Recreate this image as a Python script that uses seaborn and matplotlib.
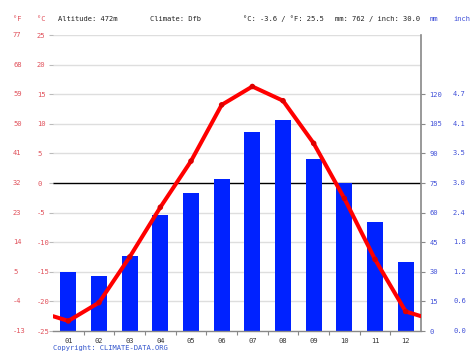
import matplotlib
matplotlib.use("Agg")
import matplotlib.pyplot as plt
import matplotlib.transforms as mtransforms
import seaborn as sns

sns.set_theme(style="white")
plt.rcParams['font.family'] = ['DejaVu Sans Mono', 'Liberation Mono']

# monthly climate values
months = ["01", "02", "03", "04", "05", "06", "07", "08", "09", "10", "11", "12"]
temp_c = [-23.3, -20.2, -12.5, -4.1, 3.7, 13.2, 16.3, 13.9, 6.7, -2.6, -12.9, -21.7]
precip_mm = [30, 28, 38, 59, 70, 77, 101, 107, 87, 75, 55, 35]

temp_ticks = [-25, -20, -15, -10, -5, 0, 5, 10, 15, 20, 25]
mm_ticks = [0, 15, 30, 45, 60, 75, 90, 105, 120]

header = ["Altitude: 472m", "Climate: Dfb", "°C: -3.6 / °F: 25.5", "mm: 762 / inch: 30.0"]

RED_TXT = "#e0505a"
BLUE_TXT = "#4050d8"
FS = 5.1

tmin, tmax = temp_ticks[0], temp_ticks[-1]
pmax = 150
scale = pmax / (tmax - tmin)

fig = plt.figure(figsize=(4.74, 3.55), dpi=100)
ax = fig.add_axes([53 / 474, 24 / 355, 368 / 474, 296 / 355])
axp = ax.twinx()
ax.set_zorder(axp.get_zorder() + 1)
ax.patch.set_visible(False)

# precipitation bars (behind the temperature line)
for t in temp_ticks[1:]:
    axp.axhline((t - tmin) * scale, color="black" if t == 0 else "#dedede",
                lw=1.0, zorder=0.4)
sns.barplot(x=months, y=precip_mm, ax=axp, color="#0022ff", width=0.52,
            saturation=1, edgecolor="none", zorder=2)
axp.set_ylim(0, pmax)
axp.set_yticks(mm_ticks)
axp.set_yticklabels([str(m) for m in mm_ticks])
axp.tick_params(axis="y", colors="#888888", labelcolor=BLUE_TXT, labelsize=FS,
                length=3, width=0.8, pad=3, right=True, left=False)
axp.set_xlabel("")
axp.set_ylabel("")

# temperature line, extended to the edges with the Dec/Jan mean
edge = (temp_c[0] + temp_c[-1]) / 2
xs = [-0.5] + list(range(12)) + [11.5]
ys = [edge] + temp_c + [edge]
sns.lineplot(x=xs, y=ys, ax=ax, color="#ff0000", linewidth=2.9, sort=False)
sns.scatterplot(x=list(range(12)), y=temp_c, ax=ax, color="#dd0000", s=16,
                edgecolor="none", zorder=5)
ax.set_ylim(tmin, tmax)
ax.set_xlim(-0.5, 11.5)
ax.set_yticks(temp_ticks)
ax.set_yticklabels([str(t) for t in temp_ticks])
ax.tick_params(axis="y", colors="#bbbbbb", labelcolor=RED_TXT, labelsize=FS,
               length=3, width=0.8, pad=8.5, left=True, right=False)
for lab in ax.get_yticklabels():
    lab.set_horizontalalignment("left")
ax.set_xticks(range(12))
ax.set_xticklabels(months)
ax.set_xticks([i + 0.5 for i in range(11)], minor=True)
ax.tick_params(axis="x", which="major", length=0, labelsize=FS,
               labelcolor="#333333", pad=5)
ax.tick_params(axis="x", which="minor", length=3, width=0.8, color="#888888",
               bottom=True)
ax.set_xlabel("")
ax.set_ylabel("")

for s in ["top", "left", "right"]:
    ax.spines[s].set_visible(False)
ax.spines["bottom"].set_color("#888888")
ax.spines["bottom"].set_linewidth(1.0)
for s in ["top", "left", "bottom"]:
    axp.spines[s].set_visible(False)
axp.spines["right"].set_color("#888888")
axp.spines["right"].set_linewidth(1.2)

# Fahrenheit and inch labels
tf = mtransforms.blended_transform_factory(fig.transFigure, ax.transData)
for t in temp_ticks:
    fig.text(13 / 474, t, str(round(t * 9 / 5 + 32)), transform=tf,
             ha="left", va="center", fontsize=FS, color=RED_TXT)
tp = mtransforms.blended_transform_factory(fig.transFigure, axp.transData)
for m in mm_ticks:
    fig.text(453 / 474, m, f"{m / 25.4:.1f}", transform=tp,
             ha="left", va="center", fontsize=FS, color=BLUE_TXT)

# header
hy = 1 - 19 / 355
fig.text(13 / 474, hy, "°F", fontsize=FS, color=RED_TXT, va="center")
fig.text(37 / 474, hy, "°C", fontsize=FS, color=RED_TXT, va="center")
for x, txt in zip([58, 150, 243, 335], header):
    fig.text(x / 474, hy, txt, fontsize=FS, color="#222222", va="center")
fig.text(430 / 474, hy, "mm", fontsize=FS, color=BLUE_TXT, va="center")
fig.text(453 / 474, hy, "inch", fontsize=FS, color=BLUE_TXT, va="center")

fig.text(53 / 474, 1 - 348 / 355, "Copyright: CLIMATE-DATA.ORG", fontsize=FS,
         color="#3355cc", va="center")

fig.savefig("out.png", dpi=100)
